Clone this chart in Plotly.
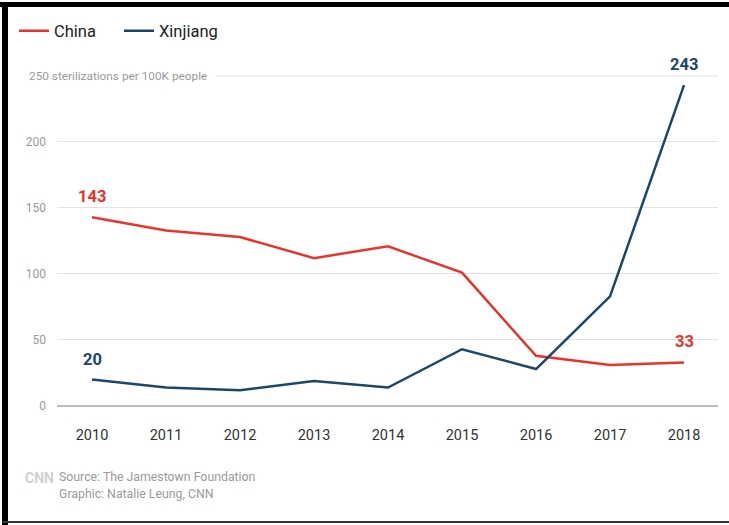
import plotly.graph_objects as go

years = [2010, 2011, 2012, 2013, 2014, 2015, 2016, 2017, 2018]
china = [143, 133, 128, 112, 121, 101, 38, 31, 33]
xinjiang = [20, 14, 12, 19, 14, 43, 28, 83, 243]
y_ticks = [0, 50, 100, 150, 200]
top_tick = 250
top_label = "250 sterilizations per 100K people"

RED = "#e8352b"
NAVY = "#1d4766"
FONT = "Roboto, Arial, sans-serif"

W, H = 729, 525
L, R, T, B = 57, 11, 60, 119
PW, PH = W - L - R, H - T - B


def px(x):
    return (x - L) / PW


def py(y):
    return (H - B - y) / PH


fig = go.Figure()
fig.add_trace(go.Scatter(x=years, y=china, mode="lines", name="China",
                         line=dict(color=RED, width=2.5)))
fig.add_trace(go.Scatter(x=years, y=xinjiang, mode="lines", name="Xinjiang",
                         line=dict(color=NAVY, width=2.5)))

annotations = []
for series, color in ((china, RED), (xinjiang, NAVY)):
    for idx in (0, len(years) - 1):
        annotations.append(dict(x=years[idx], y=series[idx], xref="x", yref="y",
                                text="<b>%d</b>" % series[idx], showarrow=False,
                                yanchor="bottom", yshift=9,
                                font=dict(family=FONT, size=16.5, color=color)))
annotations.append(dict(x=px(27), y=top_tick, xref="paper", yref="y",
                        text=top_label, showarrow=False, xanchor="left",
                        font=dict(family=FONT, size=11.8, color="#9a9a9a")))
annotations.append(dict(x=px(57), y=py(477), xref="paper", yref="paper",
                        text="Source: The Jamestown Foundation", showarrow=False,
                        xanchor="left", yanchor="middle",
                        font=dict(family=FONT, size=12.3, color="#9a9a9a")))
annotations.append(dict(x=px(57), y=py(494), xref="paper", yref="paper",
                        text="Graphic: Natalie Leung, CNN", showarrow=False,
                        xanchor="left", yanchor="middle",
                        font=dict(family=FONT, size=12.3, color="#9a9a9a")))
annotations.append(dict(x=px(23), y=py(478), xref="paper", yref="paper",
                        text="<b>CNN</b>", showarrow=False,
                        xanchor="left", yanchor="middle",
                        font=dict(family=FONT, size=14, color="#d0d0d0")))

shapes = [
    dict(type="line", xref="paper", yref="y", x0=px(215), x1=1,
         y0=top_tick, y1=top_tick, line=dict(color="#e3e3e3", width=1)),
    # frame
    dict(type="rect", xref="paper", yref="paper", x0=px(0), x1=px(W),
         y0=py(7), y1=py(2), fillcolor="black", line=dict(width=0)),
    dict(type="rect", xref="paper", yref="paper", x0=px(2), x1=px(8),
         y0=py(H), y1=py(2), fillcolor="black", line=dict(width=0)),
    dict(type="rect", xref="paper", yref="paper", x0=px(2), x1=px(W),
         y0=py(523), y1=py(521), fillcolor="#333333", line=dict(width=0)),
]

fig.update_layout(
    width=W, height=H,
    margin=dict(l=L, r=R, t=T, b=B, autoexpand=False),
    paper_bgcolor="white", plot_bgcolor="white",
    font=dict(family=FONT),
    showlegend=True,
    legend=dict(orientation="h", x=px(14), y=py(31), xanchor="left",
                yanchor="middle", font=dict(family=FONT, size=16.5, color="#222"),
                itemwidth=30, traceorder="normal",
                entrywidth=60, entrywidthmode="pixels"),
    annotations=annotations,
    shapes=shapes,
    xaxis=dict(range=[2009.527, 2018.459], tickvals=years,
               showgrid=False, zeroline=False, showline=False,
               ticks="", ticklabelstandoff=18,
               tickfont=dict(family=FONT, size=14.5, color="#333")),
    yaxis=dict(range=[0, 262.1], tickvals=y_ticks,
               showgrid=True, gridcolor="#e3e3e3", gridwidth=1,
               zeroline=True, zerolinecolor="#bdbdbd", zerolinewidth=2,
               showline=False, ticks="", ticklabelstandoff=10,
               tickfont=dict(family=FONT, size=12, color="#9a9a9a")),
)

fig.write_html("out.html")
